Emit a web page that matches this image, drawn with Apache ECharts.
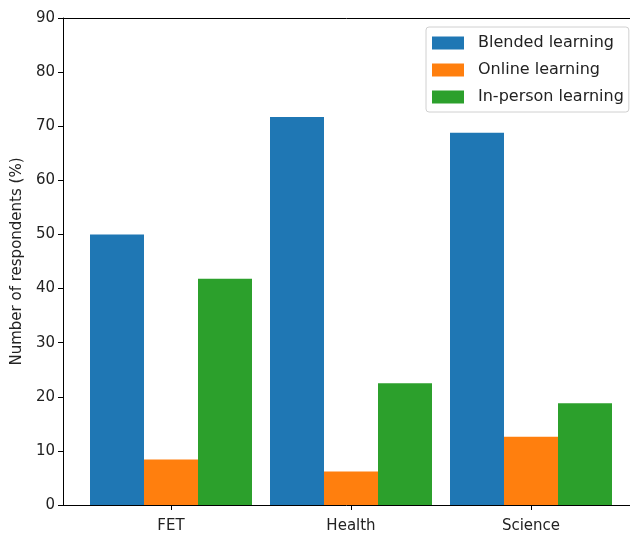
<!DOCTYPE html>
<html>
<head>
<meta charset="utf-8">
<script src="https://cdn.jsdelivr.net/npm/echarts@6/dist/echarts.min.js"></script>
<style>html,body{margin:0;padding:0;background:#fff}#c{width:630px;height:536px}</style>
</head>
<body>
<div id="c"></div>
<script>
var categories = ['FET', 'Health', 'Science'];
var seriesNames = ['Blended learning', 'Online learning', 'In-person learning'];
var blended = [50.0, 71.7, 68.8];
var online = [8.4, 6.2, 12.6];
var inPerson = [41.8, 22.5, 18.8];
var yTicks = [0, 10, 20, 30, 40, 50, 60, 70, 80, 90];
var colors = ['#1f77b4', '#ff7f0e', '#2ca02c'];
var font = 'DejaVu Sans';

function pairs(arr) { return arr.map(function (v, i) { return [i, v]; }); }

var chart = echarts.init(document.getElementById('c'), null, {renderer: 'canvas'});
var barW = 54;
chart.setOption({
  animation: false,
  color: colors,
  textStyle: {fontFamily: font},
  grid: {left: 63, top: 18, right: 0, height: 487, show: false, containLabel: false},
  legend: {
    orient: 'vertical', left: 426, top: 27,
    data: seriesNames,
    itemWidth: 32, itemHeight: 13, itemGap: 11,
    padding: [8, 5, 7, 6],
    borderColor: '#d0d0d0', borderWidth: 1, borderRadius: 3,
    backgroundColor: '#fff',
    icon: 'rect',
    textStyle: {fontFamily: font, fontSize: 16, color: '#222', padding: [0, 0, 0, 9]}
  },
  xAxis: [{
    type: 'value', min: -0.6, max: 2.55,
    splitLine: {show: false},
    axisLine: {show: true, onZero: false, lineStyle: {color: '#000', width: 1}},
    axisTick: {show: true, length: 5, lineStyle: {color: '#000'}, customValues: [0, 1, 2]},
    axisLabel: {customValues: [0, 1, 2], margin: 14, fontSize: 15, color: '#222', fontFamily: font,
      formatter: function (v) { return categories[Math.round(v)]; }}
  }, {
    type: 'value', min: -0.6, max: 2.55, position: 'top',
    splitLine: {show: false},
    axisLine: {show: true, onZero: false, lineStyle: {color: '#000', width: 1}},
    axisTick: {show: false}, axisLabel: {show: false}
  }],
  yAxis: {
    type: 'value', min: 0, max: 90, interval: 10,
    name: 'Number of respondents (%)', nameLocation: 'middle', nameGap: 38,
    nameTextStyle: {fontSize: 15, color: '#222', fontFamily: font},
    splitLine: {show: false},
    axisLine: {show: true, onZero: false, lineStyle: {color: '#000', width: 1}},
    axisTick: {show: true, length: 5, lineStyle: {color: '#000'}},
    axisLabel: {margin: 8, fontSize: 15, color: '#222', fontFamily: font,
      formatter: function (v) { return yTicks.indexOf(v) >= 0 ? String(v) : ''; }}
  },
  series: [
    {name: seriesNames[0], type: 'bar', data: pairs(blended), barWidth: barW, barGap: '0%'},
    {name: seriesNames[1], type: 'bar', data: pairs(online), barWidth: barW, barGap: '0%'},
    {name: seriesNames[2], type: 'bar', data: pairs(inPerson), barWidth: barW, barGap: '0%'}
  ]
});
</script>
</body>
</html>
